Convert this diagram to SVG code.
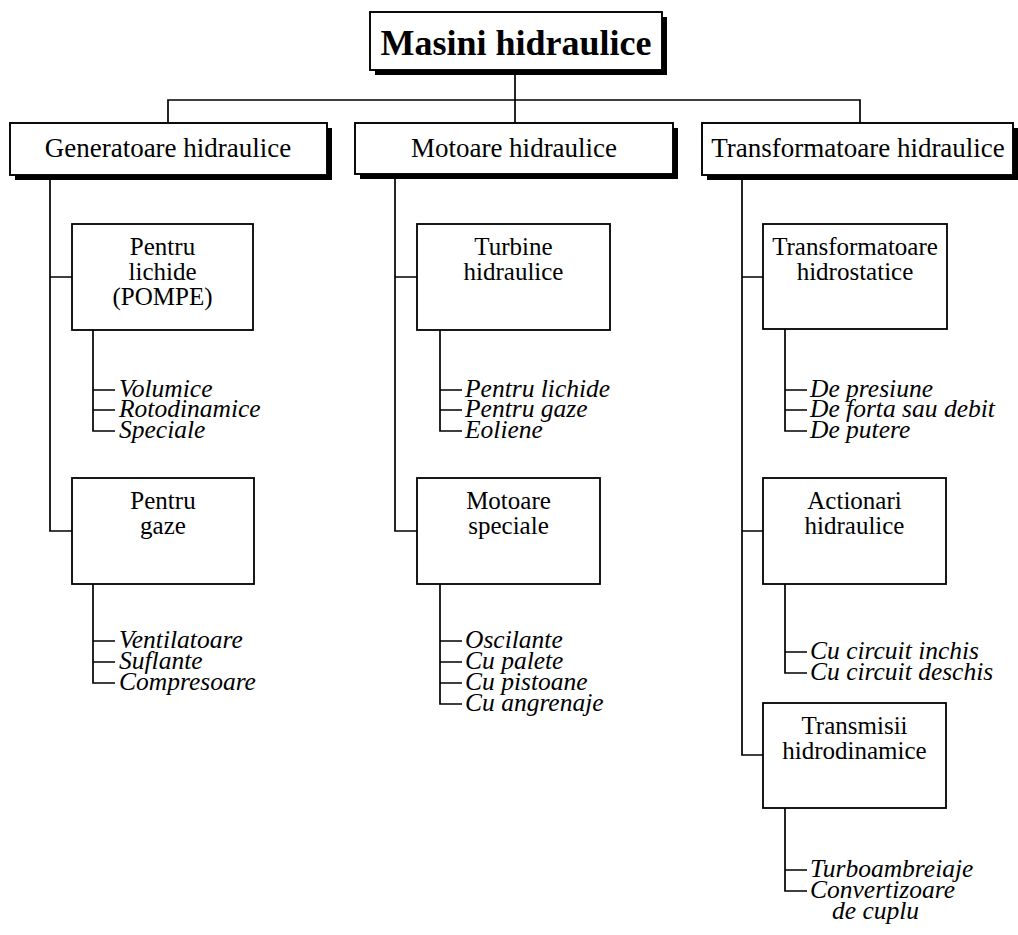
<svg xmlns="http://www.w3.org/2000/svg" width="1018" height="935" viewBox="0 0 1018 935">
<style>
.box{fill:#fff;stroke:#000;stroke-width:1.8}
.hbox{fill:#fff;stroke:#000;stroke-width:1.9}
.shadow{fill:#000}
.line{fill:none;stroke:#000;stroke-width:1.7}
.title{font-family:"Liberation Serif",serif;font-size:36px;font-weight:bold;text-anchor:middle}
.head{font-family:"Liberation Serif",serif;font-size:27px;text-anchor:middle}
.sub{font-family:"Liberation Serif",serif;font-size:25px;text-anchor:middle}
.item{font-family:"Liberation Serif",serif;font-size:25.5px;font-style:italic}
</style>
<rect width="1018" height="935" fill="#fff"/>
<g id="connectors">
<path class="line" d="M515 70V123M168 123V100H860V123"/>
<path class="line" d="M50 175V531H72M50 277H72"/>
<path class="line" d="M395 174V531H417M395 277H417"/>
<path class="line" d="M742 175V755H763M742 277H763M742 531H763"/>
<path class="line" d="M93 330V431H115M93 390H115M93 410H115"/>
<path class="line" d="M93 584V683H115M93 641H115M93 662H115"/>
<path class="line" d="M440 330V431H462M440 390H462M440 410H462"/>
<path class="line" d="M440 584V704H462M440 641H462M440 662H462M440 683H462"/>
<path class="line" d="M785 329V431H807M785 390H807M785 410H807"/>
<path class="line" d="M785 584V673H807M785 652H807"/>
<path class="line" d="M785 808V891H807M785 870H807"/>
</g>
<g id="root">
<rect class="shadow" x="375" y="17" width="292" height="58"/>
<rect class="hbox" x="370" y="12" width="292" height="58"/>
<text class="title" x="516" y="55">Masini hidraulice</text>
</g>
<g id="generatoare">
<rect class="shadow" x="15" y="128" width="317" height="52"/>
<rect class="hbox" x="10" y="123" width="317" height="52"/>
<text class="head" x="168" y="157">Generatoare hidraulice</text>
</g>
<g id="motoare">
<rect class="shadow" x="360" y="128" width="318" height="51"/>
<rect class="hbox" x="355" y="123" width="318" height="51"/>
<text class="head" x="514" y="157">Motoare hidraulice</text>
</g>
<g id="transformatoare">
<rect class="shadow" x="707" y="128" width="311" height="52"/>
<rect class="hbox" x="702" y="123" width="311" height="52"/>
<text class="head" x="858" y="157">Transformatoare hidraulice</text>
</g>
<g id="pompe">
<rect class="box" x="72" y="224" width="181" height="106"/>
<text class="sub" x="162.5" y="255">Pentru</text>
<text class="sub" x="162.5" y="280">lichide</text>
<text class="sub" x="162.5" y="305">(POMPE)</text>
</g>
<g id="pompe-items">
<text class="item" x="119" y="397">Volumice</text>
<text class="item" x="119" y="417">Rotodinamice</text>
<text class="item" x="119" y="438">Speciale</text>
</g>
<g id="gaze">
<rect class="box" x="72" y="478" width="182" height="106"/>
<text class="sub" x="163" y="509">Pentru</text>
<text class="sub" x="163" y="534">gaze</text>
</g>
<g id="gaze-items">
<text class="item" x="119" y="648">Ventilatoare</text>
<text class="item" x="119" y="669">Suflante</text>
<text class="item" x="119" y="690">Compresoare</text>
</g>
<g id="turbine">
<rect class="box" x="417" y="224" width="193" height="106"/>
<text class="sub" x="513.5" y="255">Turbine</text>
<text class="sub" x="513.5" y="280">hidraulice</text>
</g>
<g id="turbine-items">
<text class="item" x="465" y="397">Pentru lichide</text>
<text class="item" x="465" y="417">Pentru gaze</text>
<text class="item" x="465" y="438">Eoliene</text>
</g>
<g id="motoare-speciale">
<rect class="box" x="417" y="478" width="183" height="106"/>
<text class="sub" x="508.5" y="509">Motoare</text>
<text class="sub" x="508.5" y="534">speciale</text>
</g>
<g id="motoare-speciale-items">
<text class="item" x="465" y="648">Oscilante</text>
<text class="item" x="465" y="669">Cu palete</text>
<text class="item" x="465" y="690">Cu pistoane</text>
<text class="item" x="465" y="711">Cu angrenaje</text>
</g>
<g id="hidrostatice">
<rect class="box" x="763" y="224" width="184" height="105"/>
<text class="sub" x="855" y="255">Transformatoare</text>
<text class="sub" x="855" y="280">hidrostatice</text>
</g>
<g id="hidrostatice-items">
<text class="item" x="810" y="397">De presiune</text>
<text class="item" x="810" y="417">De forta sau debit</text>
<text class="item" x="810" y="438">De putere</text>
</g>
<g id="actionari">
<rect class="box" x="763" y="478" width="183" height="106"/>
<text class="sub" x="854.5" y="509">Actionari</text>
<text class="sub" x="854.5" y="534">hidraulice</text>
</g>
<g id="actionari-items">
<text class="item" x="810" y="659">Cu circuit inchis</text>
<text class="item" x="810" y="680">Cu circuit deschis</text>
</g>
<g id="transmisii">
<rect class="box" x="763" y="703" width="183" height="105"/>
<text class="sub" x="854.5" y="734">Transmisii</text>
<text class="sub" x="854.5" y="759">hidrodinamice</text>
</g>
<g id="transmisii-items">
<text class="item" x="810" y="877">Turboambreiaje</text>
<text class="item" x="810" y="898">Convertizoare</text>
<text class="item" x="832" y="919">de cuplu</text>
</g>
</svg>
